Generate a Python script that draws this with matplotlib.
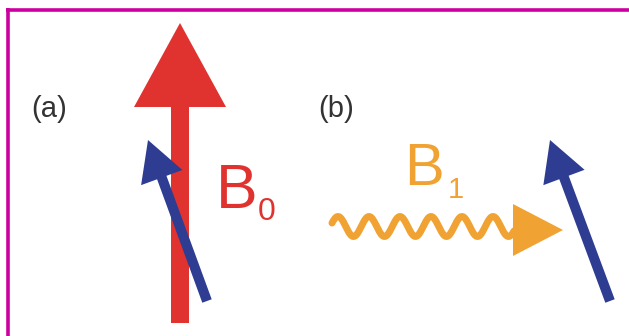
import numpy as np
import matplotlib
matplotlib.use("Agg")
import matplotlib.pyplot as plt
from matplotlib.patches import FancyArrow

# Diagram geometry (pixel units, y downwards)
b0_tail = (180, 323)
b0_tip = (180, 23)
spin_a_tail = (207, 301)
spin_a_tip = (148, 140)
spin_b_tail = (610, 301)
spin_b_tip = (550, 140)
wave_x = (332, 514)
wave_center = 226.5
wave_amp = 10
wave_period = 31
wave_first_crest = 338
b1_head_tip = (563, 230)

labels = ["(a)", "(b)"]
label_pos = [(31, 109), (318, 109)]

RED = "#e0332f"
BLUE = "#2e3d92"
ORANGE = "#f0a232"
MAGENTA = "#cc00a0"

plt.rcParams["font.family"] = ["Liberation Sans", "DejaVu Sans"]

fig = plt.figure(figsize=(6.29, 3.36), dpi=100)
ax = fig.add_axes([0, 0, 1, 1])
ax.set_xlim(0, 629)
ax.set_ylim(336, 0)
ax.axis("off")


def arrow(tail, tip, width, head_width, head_length, color):
    dx = tip[0] - tail[0]
    dy = tip[1] - tail[1]
    ax.add_patch(FancyArrow(tail[0], tail[1], dx, dy, width=width,
                            head_width=head_width, head_length=head_length,
                            length_includes_head=True, color=color, lw=0))


# B0 field arrow
arrow(b0_tail, b0_tip, 18, 92, 84, RED)

# spin in (a) and (b)
arrow(spin_a_tail, spin_a_tip, 10, 44, 40, BLUE)
arrow(spin_b_tail, spin_b_tip, 10, 44, 40, BLUE)

# B1 wavy arrow
xs = np.linspace(wave_x[0], wave_x[1], 400)
ys = wave_center - wave_amp * np.cos(2 * np.pi * (xs - wave_first_crest) / wave_period)
ax.plot(xs, ys, color=ORANGE, lw=5, solid_capstyle="round")
ax.add_patch(FancyArrow(513, b1_head_tip[1], b1_head_tip[0] - 513, 0, width=0.1,
                        head_width=52, head_length=50, length_includes_head=True,
                        color=ORANGE, lw=0))

# text
for s, (x, y) in zip(labels, label_pos):
    ax.text(x, y, s, fontsize=21, color="#333333", ha="left", va="center")

ax.text(216, 208, "B", fontsize=45, color=RED, ha="left", va="baseline")
ax.text(258, 220, "0", fontsize=23, color=RED, ha="left", va="baseline")
ax.text(404, 185, "B", fontsize=43, color=ORANGE, ha="left", va="baseline")
ax.text(448, 198, "1", fontsize=21, color=ORANGE, ha="left", va="baseline")

# magenta frame (top and left only)
ax.plot([6, 629], [9.5, 9.5], color=MAGENTA, lw=2.6, solid_capstyle="butt")
ax.plot([7.5, 7.5], [8, 336], color=MAGENTA, lw=2.6, solid_capstyle="butt")

fig.savefig("out.png", dpi=100)
